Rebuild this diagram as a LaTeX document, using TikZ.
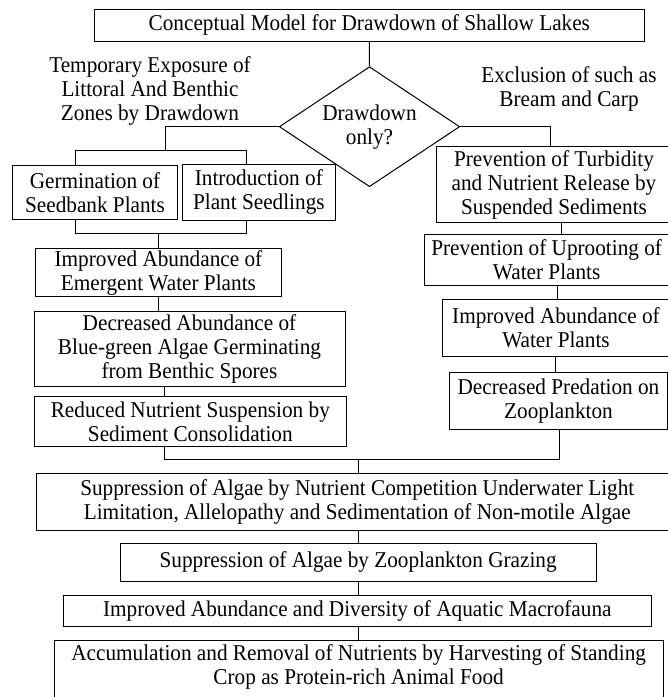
\documentclass[tikz,border=0pt]{standalone}
\usepackage{fontspec}
\setmainfont{Liberation Serif}[FakeStretch=0.94]
\usetikzlibrary{shapes.geometric,calc}
\begin{document}
\begin{tikzpicture}[x=1pt,y=-1pt,
  every node/.style={font=\fontsize{22.6}{24}\selectfont, align=center, inner sep=0pt},
  box/.style={draw, line width=1pt},
  conn/.style={line width=1pt}]
\clip (0,0) rectangle (668,697);
\fill[white] (0,0) rectangle (668,697);
% boxes
\node[box, minimum width=550.7pt, minimum height=32.7pt] (title) at (369.35,25.35) {Conceptual Model for Drawdown of Shallow Lakes};
\node (tlab) at (150,90.5) {Temporary Exposure of\\Littoral And Benthic\\Zones by Drawdown};
\node (elab) at (569,89.2) {Exclusion of such as\\Bream and Carp};
\node[box, shape=diamond, aspect=1.5, minimum width=180.4pt, minimum height=120pt] (dia) at (369.5,126.7) {Drawdown\\only?};
\node[box, minimum width=164.6pt, minimum height=53.3pt] (germ) at (95,192.35) {Germination of\\Seedbank Plants};
\node[box, minimum width=152.3pt, minimum height=56.7pt] (intro) at (258.85,192.35) {Introduction of\\Plant Seedlings};
\node[box, minimum width=245.5pt, minimum height=48.4pt] (emerg) at (158.45,272.5) {Improved Abundance of\\Emergent Water Plants};
\node[box, minimum width=311pt, minimum height=75pt] (decr) at (189.5,349.2) {Decreased Abundance of\\Blue-green Algae Germinating\\from Benthic Spores};
\node[box, minimum width=311.3pt, minimum height=49.3pt] (reduc) at (190.35,421.35) {Reduced Nutrient Suspension by\\Sediment Consolidation};
\node[box, minimum width=234.6pt, minimum height=75.6pt] (turb) at (554,184.5) {Prevention of Turbidity\\and Nutrient Release by\\Suspended Sediments};
\node[box, minimum width=245.4pt, minimum height=51pt] (uproot) at (546.7,259.5) {Prevention of Uprooting of\\Water Plants};
\node[box, minimum width=227.4pt, minimum height=56.7pt] (impw) at (556,327.65) {Improved Abundance of\\Water Plants};
\node[box, minimum width=218.4pt, minimum height=56.6pt] (pred) at (558.5,401) {Decreased Predation on\\Zooplankton};
\node[box, minimum width=642.6pt, minimum height=57.4pt] (suppn) at (357.3,502) {Suppression of Algae by Nutrient Competition Underwater Light\\Limitation, Allelopathy and Sedimentation of Non-motile Algae};
\node[box, minimum width=476.3pt, minimum height=37.7pt] (suppz) at (358.15,562.15) {Suppression of Algae by Zooplankton Grazing};
\node[box, minimum width=588pt, minimum height=31.7pt] (impd) at (357.3,610.85) {Improved Abundance and Diversity of Aquatic Macrofauna};
\node[minimum width=608.7pt, minimum height=52pt] (accum) at (358.65,666.7) {Accumulation and Removal of Nutrients by Harvesting of Standing\\Crop as Protein-rich Animal Food};
\draw[conn] ($(accum.north west)+(0,70)$) |- (accum.north east) -- ++(0,70);
% junction coordinates
\coordinate (jL) at (165.7,150.7);
\coordinate (xa) at (75,0);
\coordinate (xb) at (246.7,0);
\coordinate (jB) at (158.3,233);
\coordinate (xc) at (164.3,0);
\coordinate (jR) at (559.3,459.3);
\coordinate (xm) at (358,0);
\coordinate (xe) at (550.7,0);
\coordinate (xf) at (561,0);
\coordinate (xg) at (557.3,0);
\coordinate (xh) at (555,0);
% connectors
\draw[conn] (title.south) -- (dia.north);
\draw[conn] (dia.west) -| (jL);
\draw[conn] (germ.north -| xa) -- (xa |- jL) -- (xb |- jL) -- (intro.north -| xb);
\draw[conn] (germ.south -| xa) -- (xa |- jB) -- (xb |- jB) -- (intro.south -| xb);
\draw[conn] (jB) -- (emerg.north -| jB);
\draw[conn] (emerg.south -| jB) -- (decr.north -| jB);
\draw[conn] (decr.south -| xc) -- (reduc.north -| xc);
\draw[conn] (reduc.south -| xc) |- (jR) -- (pred.south -| jR);
\draw[conn] (dia.east) -| (turb.north -| xe);
\draw[conn] (turb.south -| xf) -- (uproot.north -| xf);
\draw[conn] (uproot.south -| xg) -- (impw.north -| xg);
\draw[conn] (impw.south -| xh) -- (pred.north -| xh);
\draw[conn] (xm |- jR) -- (suppn.north -| xm);
\draw[conn] (suppn.south -| xm) -- (suppz.north -| xm);
\draw[conn] (suppz.south -| xm) -- (impd.north -| xm);
\draw[conn] (impd.south -| xm) -- (accum.north -| xm);
\end{tikzpicture}
\end{document}
